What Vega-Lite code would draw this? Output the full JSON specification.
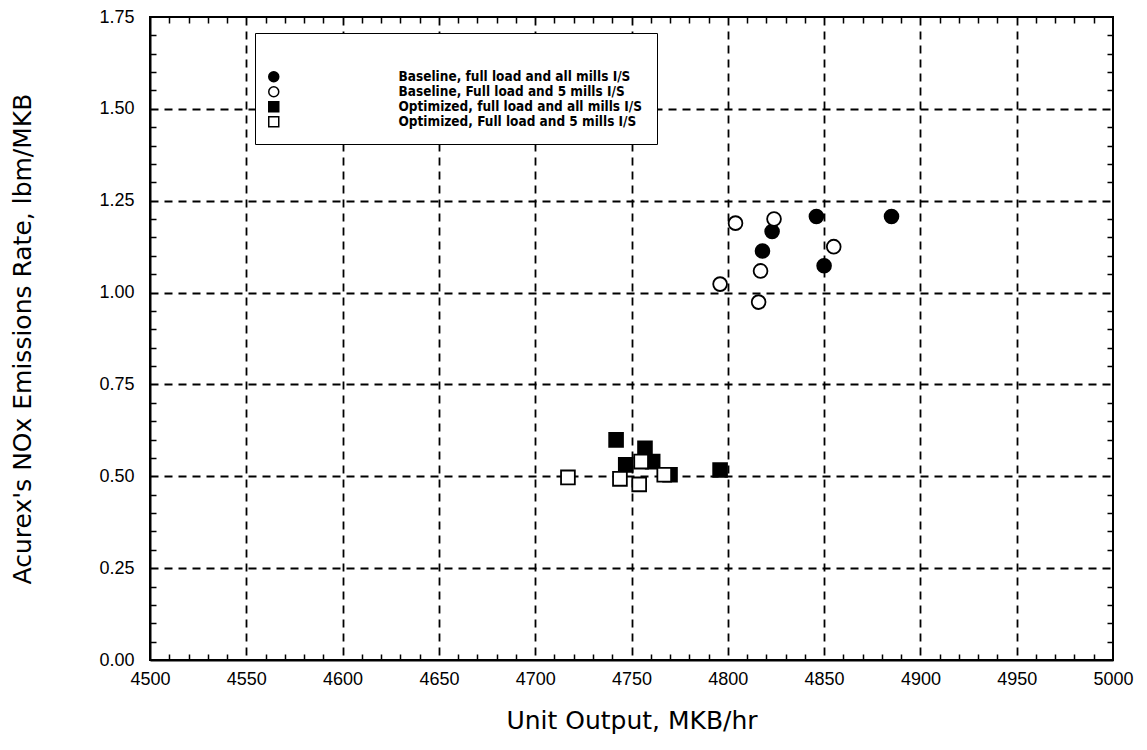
{
  "$schema": "https://vega.github.io/schema/vega-lite/v6.json",
  "width": 963,
  "height": 643,
  "autosize": "none",
  "padding": {"left": 150, "top": 17, "right": 34, "bottom": 90},
  "background": "white",
  "config": {
    "view": {"stroke": "black", "strokeWidth": 2},
    "axis": {
      "domainColor": "black",
      "domainWidth": 2,
      "labelColor": "black",
      "titleColor": "black",
      "labelFont": "Liberation Sans",
      "labelFontSize": 18,
      "titleFont": "DejaVu Sans",
      "titleFontSize": 25,
      "titleFontWeight": "normal",
      "gridColor": "black"
    },
    "legend": {
      "orient": "none",
      "legendX": 105,
      "legendY": 16,
      "strokeColor": "black",
      "fillColor": "white",
      "padding": 14,
      "symbolOffset": -2,
      "labelOffset": 118,
      "rowPadding": -3,
      "symbolSize": 100,
      "symbolStrokeWidth": 1.5,
      "labelFont": "DejaVu Sans Condensed",
      "labelFontWeight": "bold",
      "labelFontSize": 13.5,
      "labelColor": "black",
      "labelLimit": 400,
      "titleFontSize": 12,
      "titlePadding": 11
    }
  },
  "data": {
    "values": [
      {"series": "Baseline, full load and all mills I/S", "output": 4846, "nox": 1.207},
      {"series": "Baseline, full load and all mills I/S", "output": 4885, "nox": 1.207},
      {"series": "Baseline, full load and all mills I/S", "output": 4823, "nox": 1.166},
      {"series": "Baseline, full load and all mills I/S", "output": 4818, "nox": 1.113},
      {"series": "Baseline, full load and all mills I/S", "output": 4850, "nox": 1.073},
      {"series": "Baseline, Full load and 5 mills I/S", "output": 4804, "nox": 1.189},
      {"series": "Baseline, Full load and 5 mills I/S", "output": 4824, "nox": 1.2},
      {"series": "Baseline, Full load and 5 mills I/S", "output": 4855, "nox": 1.125},
      {"series": "Baseline, Full load and 5 mills I/S", "output": 4817, "nox": 1.059},
      {"series": "Baseline, Full load and 5 mills I/S", "output": 4796, "nox": 1.023},
      {"series": "Baseline, Full load and 5 mills I/S", "output": 4816, "nox": 0.974},
      {"series": "Optimized, Full load and 5 mills I/S", "output": 4717, "nox": 0.497},
      {"series": "Optimized, Full load and 5 mills I/S", "output": 4744, "nox": 0.493},
      {"series": "Optimized, Full load and 5 mills I/S", "output": 4754, "nox": 0.478},
      {"series": "Optimized, Full load and 5 mills I/S", "output": 4755, "nox": 0.54},
      {"series": "Optimized, Full load and 5 mills I/S", "output": 4767, "nox": 0.504},
      {"series": "Optimized, full load and all mills I/S", "output": 4742, "nox": 0.599},
      {"series": "Optimized, full load and all mills I/S", "output": 4757, "nox": 0.576},
      {"series": "Optimized, full load and all mills I/S", "output": 4747, "nox": 0.531},
      {"series": "Optimized, full load and all mills I/S", "output": 4761, "nox": 0.54},
      {"series": "Optimized, full load and all mills I/S", "output": 4770, "nox": 0.504},
      {"series": "Optimized, full load and all mills I/S", "output": 4796, "nox": 0.517}
    ]
  },
  "mark": {"type": "point", "filled": true, "strokeWidth": 1.8, "size": 190, "opacity": 1},
  "encoding": {
    "x": {
      "field": "output", "type": "quantitative",
      "scale": {"domain": [4500, 5000], "nice": false, "zero": false},
      "axis": {
        "orient": "bottom",
        "title": "Unit Output, MKB/hr",
        "values": [4500,4510,4520,4530,4540,4550,4560,4570,4580,4590,4600,4610,4620,4630,4640,4650,4660,4670,4680,4690,4700,4710,4720,4730,4740,4750,4760,4770,4780,4790,4800,4810,4820,4830,4840,4850,4860,4870,4880,4890,4900,4910,4920,4930,4940,4950,4960,4970,4980,4990,5000],
        "labelExpr": "datum.value % 50 === 0 ? format(datum.value, 'd') : ''",
        "ticks": false,
        "labelPadding": 10,
        "labelFlush": false,
        "labelOverlap": false,
        "grid": true,
        "gridDash": {"condition": {"test": "datum.value % 50 === 0", "value": [8, 6]}, "value": [6, 631, 6, 100]},
        "gridWidth": {"condition": {"test": "datum.value % 50 === 0", "value": 1.8}, "value": 1.5},
        "gridOpacity": {"condition": {"test": "datum.value === 4500 || datum.value === 5000", "value": 0}, "value": 1},
        "titlePadding": 20
      }
    },
    "y": {
      "field": "nox", "type": "quantitative",
      "scale": {"domain": [0, 1.75], "nice": false, "zero": false},
      "axis": {
        "orient": "left",
        "title": "Acurex's NOx Emissions Rate, lbm/MKB",
        "values": [0,0.05,0.1,0.15,0.2,0.25,0.3,0.35,0.4,0.45,0.5,0.55,0.6,0.65,0.7,0.75,0.8,0.85,0.9,0.95,1,1.05,1.1,1.15,1.2,1.25,1.3,1.35,1.4,1.45,1.5,1.55,1.6,1.65,1.7,1.75],
        "labelExpr": "round(datum.value * 100) % 25 === 0 ? format(datum.value, '.2f') : ''",
        "ticks": false,
        "labelPadding": 16,
        "labelFlush": false,
        "labelOverlap": false,
        "grid": true,
        "gridDash": {"condition": {"test": "round(datum.value * 100) % 25 === 0", "value": [8, 6]}, "value": [6, 951, 6, 100]},
        "gridWidth": {"condition": {"test": "round(datum.value * 100) % 25 === 0", "value": 1.8}, "value": 1.5},
        "gridOpacity": {"condition": {"test": "datum.value < 0.01 || datum.value > 1.74", "value": 0}, "value": 1},
        "titleX": -115
      }
    },
    "shape": {
      "field": "series", "type": "nominal",
      "scale": {
        "domain": ["Baseline, full load and all mills I/S", "Baseline, Full load and 5 mills I/S", "Optimized, full load and all mills I/S", "Optimized, Full load and 5 mills I/S"],
        "range": ["circle", "circle", "square", "square"]
      },
      "legend": {"title": " "}
    },
    "fill": {
      "field": "series", "type": "nominal",
      "scale": {
        "domain": ["Baseline, full load and all mills I/S", "Baseline, Full load and 5 mills I/S", "Optimized, full load and all mills I/S", "Optimized, Full load and 5 mills I/S"],
        "range": ["black", "white", "black", "white"]
      },
      "legend": {"title": " "}
    },
    "stroke": {
      "field": "series", "type": "nominal",
      "scale": {
        "domain": ["Baseline, full load and all mills I/S", "Baseline, Full load and 5 mills I/S", "Optimized, full load and all mills I/S", "Optimized, Full load and 5 mills I/S"],
        "range": ["black", "black", "black", "black"]
      },
      "legend": {"title": " "}
    },
    "order": {"field": "series", "sort": "descending"}
  }
}
